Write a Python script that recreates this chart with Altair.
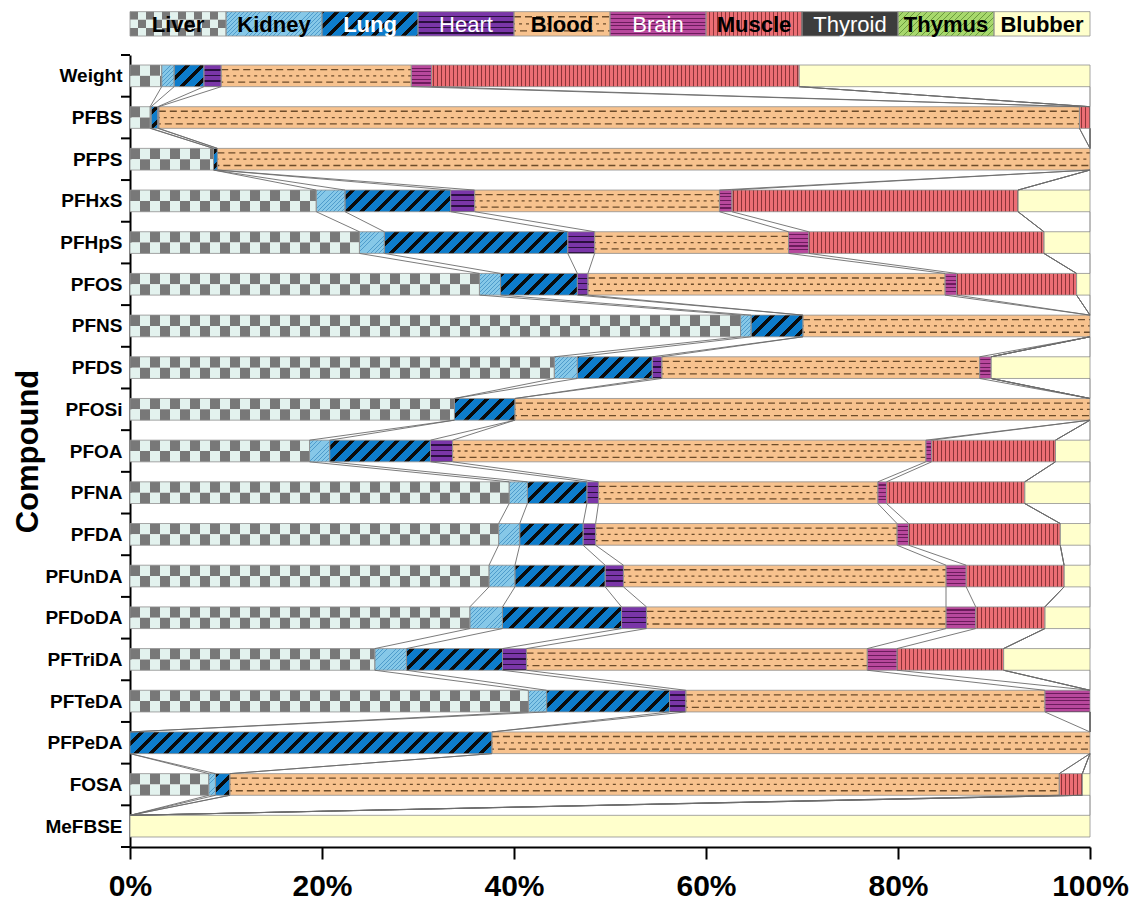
import math
import altair as alt

# ---------------- data ----------------
compounds = ["Weight", "PFBS", "PFPS", "PFHxS", "PFHpS", "PFOS", "PFNS", "PFDS", "PFOSi",
             "PFOA", "PFNA", "PFDA", "PFUnDA", "PFDoDA", "PFTriDA", "PFTeDA", "PFPeDA",
             "FOSA", "MeFBSE"]
organs = ["Liver", "Kidney", "Lung", "Heart", "Blood", "Brain", "Muscle",
          "Thyroid", "Thymus", "Blubber"]

liver   = [3.3, 2.1, 8.7, 19.4, 23.9, 36.4, 63.6, 44.2, 33.8, 18.7, 39.5, 38.4, 37.4, 35.4, 25.5, 41.5, 0, 8.2, 0]
kidney  = [1.3, 0.1, 0, 3.0, 2.6, 2.2, 1.1, 2.4, 0, 2.1, 1.9, 2.2, 2.7, 3.4, 3.3, 1.9, 0, 0.7, 0]
lung    = [3.1, 0.7, 0.4, 11.0, 19.1, 8.0, 5.4, 7.8, 6.3, 10.5, 6.2, 6.6, 9.4, 12.4, 10.0, 12.8, 37.7, 1.5, 0]
heart   = [1.8, 0.1, 0, 2.5, 2.8, 1.1, 0, 1.0, 0, 2.3, 1.2, 1.3, 1.9, 2.6, 2.5, 1.7, 0, 0, 0]
blood   = [19.8, 95.9, 90.9, 25.5, 20.2, 37.2, 29.9, 33.1, 59.9, 49.3, 29.1, 31.4, 33.6, 31.2, 35.5, 37.4, 62.3, 86.4, 0]
brain   = [2.1, 0, 0, 1.3, 2.1, 1.2, 0, 1.2, 0, 0.6, 0.9, 1.2, 2.1, 3.1, 3.1, 4.7, 0, 0, 0]
muscle  = [38.3, 1.1, 0, 29.8, 24.5, 12.5, 0, 0, 0, 12.9, 14.4, 15.8, 10.2, 7.2, 11.1, 0, 0, 2.4, 0]
thyroid = [0] * 19
thymus  = [0] * 19
blubber = [30.3, 0, 0, 7.5, 4.8, 1.4, 0, 10.3, 0, 3.6, 6.8, 3.1, 2.7, 4.7, 9.0, 0, 0, 0.8, 100]

series = [liver, kidney, lung, heart, blood, brain, muscle, thyroid, thymus, blubber]

legend_text_color = ["black", "black", "white", "white", "black", "white", "black", "white", "black", "black"]
legend_text_bold = [True, True, True, False, True, False, True, False, True, True]

# ---------------- geometry / style ----------------
W, H = 960, 792
PX = W / 100.0                 # pixels per percent
STEP = H / 19.0                # pixels per category
HALF = 0.26                    # half bar thickness (category units)
LEG_TOP, LEG_BOT = -1.54, -0.955

GRAY, LIGHT = "#787878", "#e3f2ee"


def stripe_stops(a0, a1, pieces):
    period = sum(l for l, _ in pieces)
    L = a1 - a0
    stops = []
    pos = math.floor(a0 / period) * period
    while pos < a1 - 1e-9:
        for length, color in pieces:
            s, e = pos, pos + length
            pos = e
            if e <= a0 or s >= a1:
                continue
            t0 = (max(s, a0) - a0) / L
            t1 = (min(e, a1) - a0) / L
            stops.append({"offset": round(t0, 5), "color": color})
            stops.append({"offset": round(t1, 5), "color": color})
    return stops


def vstripes(x0, x1, pieces):
    return {"gradient": "linear", "x1": 0, "y1": 0, "x2": 1, "y2": 0,
            "stops": stripe_stops(x0, x1, pieces)}


def hstripes(h, pieces):
    return {"gradient": "linear", "x1": 0, "y1": 0, "x2": 0, "y2": 1,
            "stops": stripe_stops(0, h, pieces)}


def diag(x0, w, h, pieces):
    k = (w + h) / (w * w + h * h)
    return {"gradient": "linear", "x1": 0, "y1": 0, "x2": w * k, "y2": h * k,
            "stops": stripe_stops(x0, x0 + w + h, pieces)}


def organ_fill(organ, x0, w, h):
    if organ == "Kidney":
        return diag(x0, w, h, [(3.2, "#86c8e8"), (0.9, "#4f9ccc")])
    if organ == "Lung":
        return diag(x0, w, h, [(10, "#0d7ccb"), (5, "#0b0b0b")])
    if organ == "Heart":
        return hstripes(h, [(4.2, "#7a36a8"), (1.3, "#2a0f40")])
    if organ == "Blood":
        return "#f7c28e"
    if organ == "Brain":
        return hstripes(h, [(2.6, "#b8489c"), (1.1, "#6c1c5c")])
    if organ == "Muscle":
        return vstripes(x0, x0 + w, [(3.0, "#ec6e74"), (1.0, "#8a3438")])
    if organ == "Thyroid":
        return "#3d3d3d"
    if organ == "Thymus":
        return diag(x0, w, h, [(5, "#a7d86c"), (1, "#6a9a3c")])
    return "#ffffcc"  # Blubber


seg_rows, outline_rows, dash_rows = [], [], []


def add_segment(organ, a, b, ya, yb, n_liver_rows, sq):
    x0, x1 = a * PX, b * PX
    w = x1 - x0
    h = (yb - ya) * STEP
    outline_rows.append({"a": a, "b": b, "ya": ya, "yb": yb})
    if organ == "Liver":
        for r in range(n_liver_rows):
            ra = ya + r * (yb - ya) / n_liver_rows
            rb = ya + (r + 1) * (yb - ya) / n_liver_rows
            pieces = [(sq, GRAY), (sq, LIGHT)] if r % 2 == 0 else [(sq, LIGHT), (sq, GRAY)]
            seg_rows.append({"a": a, "b": b, "ya": ra, "yb": rb, "g": vstripes(x0, x1, pieces)})
    else:
        seg_rows.append({"a": a, "b": b, "ya": ya, "yb": yb, "g": organ_fill(organ, x0, w, h)})
    if organ == "Blood":
        mid = (ya + yb) / 2
        off = (yb - ya) * 0.29
        for k, yy in enumerate([mid - off, mid, mid + off]):
            dash_rows.append({"a": a, "b": b, "y": yy, "row": k})


# bars
cum = []
for i, comp in enumerate(compounds):
    start = 0.0
    ends = []
    for j, organ in enumerate(organs):
        v = series[j][i]
        end = start + v
        if v > 0:
            add_segment(organ, start, end, i - HALF, i + HALF, 2, 10)
        ends.append(end)
        start = end
    cum.append(ends)

# legend cells
legend_rows = []
for j, organ in enumerate(organs):
    add_segment(organ, j * 10, j * 10 + 10, LEG_TOP, LEG_BOT, 3, 8)
    legend_rows.append({"x": j * 10 + 5, "y": (LEG_TOP + LEG_BOT) / 2, "t": organ,
                        "c": legend_text_color[j], "bold": legend_text_bold[j]})

# series lines between neighbouring bars
conn_rows = []
for i in range(len(compounds) - 1):
    for j in range(len(organs)):
        conn_rows.append({"a": cum[i][j], "b": cum[i + 1][j],
                          "ya": i + HALF, "yb": i + 1 - HALF})

tick_rows = [{"y": k - 0.5} for k in range(len(compounds) + 1)]

# ---------------- chart ----------------
xs = alt.Scale(domain=[0, 100], nice=False, zero=False)
ys = alt.Scale(domain=[-0.5, 18.5], reverse=True, nice=False, zero=False)

label_expr = "[" + ",".join("'%s'" % c for c in compounds) + "][datum.value]"

x_axis = alt.Axis(values=[0, 20, 40, 60, 80, 100], labelExpr="datum.value + '%'", title=None,
                  grid=False, tickSize=12, tickWidth=2, tickColor="black",
                  domainWidth=2, domainColor="black", labelFont="Liberation Sans",
                  labelFontSize=30, labelFontWeight="bold", labelColor="black",
                  labelPadding=12, labelFlush=False, labelOverlap=False)
y_axis = alt.Axis(values=list(range(len(compounds))), labelExpr=label_expr, ticks=False,
                  grid=False, domainWidth=2, domainColor="black", labelFont="Liberation Sans",
                  labelFontSize=19, labelFontWeight="bold", labelColor="black", labelPadding=8,
                  labelFlush=False, labelOverlap=False, title="Compound",
                  titleFont="Liberation Sans", titleFontSize=31, titleFontWeight="bold",
                  titleColor="black", titlePadding=0)


def X(f):
    return alt.X(f, scale=xs, axis=x_axis)


def Y(f):
    return alt.Y(f, scale=ys, axis=y_axis)


segs = alt.Chart(alt.Data(values=seg_rows)).mark_rect(strokeWidth=0).encode(
    x=X("a:Q"), x2="b:Q", y=Y("ya:Q"), y2="yb:Q",
    fill=alt.Fill("g:N", scale=None, legend=None),
)

dash_styles = [([7, 4], 0), ([3, 4], 2), ([7, 4], 5)]
dash_layers = []
for k, (dash, doff) in enumerate(dash_styles):
    rows = [r for r in dash_rows if r["row"] == k]
    dash_layers.append(
        alt.Chart(alt.Data(values=rows)).mark_rule(
            color="#4a2e12", strokeWidth=1.3, strokeDash=dash, strokeDashOffset=doff, opacity=0.8
        ).encode(x=X("a:Q"), x2="b:Q", y=Y("y:Q"))
    )

outlines = alt.Chart(alt.Data(values=outline_rows)).mark_rect(
    fillOpacity=0, stroke="#8f8f8f", strokeWidth=0.8
).encode(x=X("a:Q"), x2="b:Q", y=Y("ya:Q"), y2="yb:Q")

conns = alt.Chart(alt.Data(values=conn_rows)).mark_rule(
    color="#6c6c6c", strokeWidth=0.9
).encode(x=X("a:Q"), x2="b:Q", y=Y("ya:Q"), y2="yb:Q")

yticks = alt.Chart(alt.Data(values=tick_rows)).mark_rule(
    color="black", strokeWidth=2
).encode(y=Y("y:Q"), x=alt.value(-9), x2=alt.value(0))

text_layers = []
for bold in (True, False):
    rows = [r for r in legend_rows if r["bold"] == bold]
    text_layers.append(
        alt.Chart(alt.Data(values=rows)).mark_text(
            font="Liberation Sans", fontSize=22, baseline="middle", align="center", dy=1,
            fontWeight="bold" if bold else "normal"
        ).encode(
            x=X("x:Q"), y=Y("y:Q"), text="t:N",
            color=alt.Color("c:N", scale=None, legend=None),
        )
    )

chart = alt.layer(segs, *dash_layers, outlines, conns, yticks, *text_layers).properties(
    width=W, height=H, background="white",
    padding={"left": 4, "top": 3, "right": 5, "bottom": 0}
).configure_view(strokeWidth=0)

chart.save("out.html", embed_options={"renderer": "svg", "actions": False})
